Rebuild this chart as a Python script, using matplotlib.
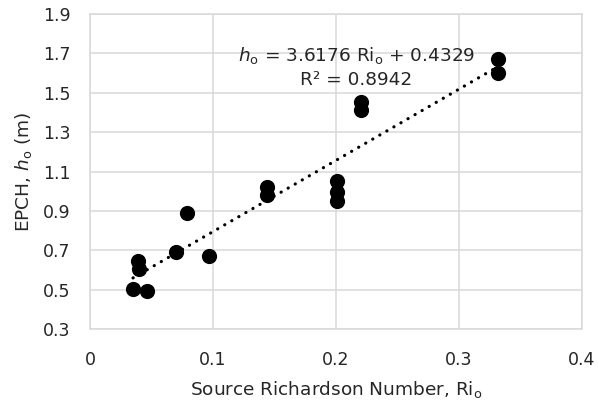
import matplotlib
matplotlib.use('Agg')
import matplotlib.pyplot as plt
import numpy as np

# Source Richardson number vs EPCH
ri_o = [0.035, 0.046, 0.039, 0.040, 0.070, 0.079, 0.097,
        0.1436, 0.1436, 0.201, 0.201, 0.201, 0.2203, 0.2203, 0.332, 0.332]
h_o = [0.505, 0.495, 0.647, 0.605, 0.690, 0.890, 0.673,
       1.023, 0.980, 1.053, 0.995, 0.952, 1.452, 1.413, 1.670, 1.602]

xticks = [0, 0.1, 0.2, 0.3, 0.4]
yticks = [0.3, 0.5, 0.7, 0.9, 1.1, 1.3, 1.5, 1.7, 1.9]

text_col = '#262626'
grid_col = '#d9d9d9'

plt.rcParams['font.family'] = 'DejaVu Sans'
plt.rcParams['mathtext.fontset'] = 'dejavusans'

fig = plt.figure(figsize=(5.98, 4.08), dpi=100)
ax = fig.add_axes([0.1505, 0.1936, 0.8227, 0.7721])

x = np.array(ri_o)
y = np.array(h_o)

#Trendline
slope, intercept = 3.6176, 0.4329
xl = np.array([x.min(), x.max()])
ax.plot(xl, slope*xl + intercept, color='black', linestyle=(0, (0.05, 2.5)),
        linewidth=2.3, dash_capstyle='round', zorder=2)

ax.scatter(x, y, s=120, color='black', zorder=3, linewidths=0)

ax.set_xlim(0, 0.4)
ax.set_ylim(0.3, 1.9)
ax.set_xticks(xticks)
ax.set_xticklabels(['0', '0.1', '0.2', '0.3', '0.4'])
ax.set_yticks(yticks)
ax.set_yticklabels([f'{v:.1f}' for v in yticks])
ax.grid(True, color=grid_col, linewidth=1.1, zorder=0)
ax.set_axisbelow(True)
for s in ax.spines.values():
    s.set_color(grid_col)
    s.set_linewidth(1.1)
ax.tick_params(axis='both', length=0, labelsize=12.5, colors=text_col)
ax.tick_params(axis='x', pad=16)
ax.tick_params(axis='y', pad=14)

ax.set_xlabel(r'Source Richardson Number, Ri$_\mathrm{o}$', fontsize=13.3,
              color=text_col, va='center')
ax.xaxis.set_label_coords(0.5, -0.193)
ax.set_ylabel(r'EPCH, $h_\mathrm{o}$ (m)', fontsize=13.3, color=text_col, va='center')
ax.yaxis.set_label_coords(-0.136, 0.5)

ax.text(0.2163, 1.69, r'$h_\mathrm{o}$ = 3.6176 Ri$_\mathrm{o}$ + 0.4329',
        fontsize=13.3, color=text_col, ha='center', va='center')
ax.text(0.2163, 1.565, 'R² = 0.8942', fontsize=13.3, color=text_col,
        ha='center', va='center')

plt.savefig('out.png', dpi=100)
